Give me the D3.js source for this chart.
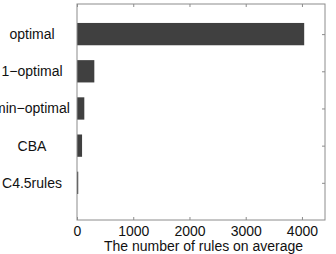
<!DOCTYPE html>
<html>
<head>
<meta charset="utf-8">
<script src="https://cdn.jsdelivr.net/npm/d3@7"></script>
<style>
  body { margin: 0; background: #fff; }
  text { font-family: 'Liberation Sans', Arial, sans-serif; }
</style>
</head>
<body>
<div id="chart"></div>
<script>
const categories = ['optimal', '1\u2212optimal', 'min\u2212optimal', 'CBA', 'C4.5rules'];
const ruleCounts = [4040, 308, 130, 90, 22];
const xTicks = [0, 1000, 2000, 3000, 4000];
const xLabel = 'The number of rules on average';

const width = 336, height = 254;
const margins = { top: 4, right: 11, bottom: 34, left: 77 };
const innerW = width - margins.left - margins.right;
const innerH = height - margins.top - margins.bottom;
const fontSize = '14px';

const svg = d3.select('#chart').append('svg')
    .attr('width', width)
    .attr('height', height);

const canvas = svg.append('g')
    .attr('transform', `translate(${margins.left}, ${margins.top})`);

const xScale = d3.scaleLinear()
    .domain([0, 4410])
    .range([0, innerW]);

// category positions like matlab barh: C4.5rules at 1 ... optimal at 5
const yScale = d3.scaleLinear()
    .domain([0, 5.81])
    .range([innerH, 0]);
const pos = (i) => categories.length - i;
const barH = yScale(0) - yScale(0.6);

const axisColor = '#8c8c8c';
const tickLen = 3;

// bars
canvas.selectAll('rect.bar')
    .data(ruleCounts)
    .enter()
    .append('rect')
    .attr('class', 'bar')
    .attr('x', xScale(0))
    .attr('y', (d, i) => yScale(pos(i)) - barH / 2)
    .attr('width', d => xScale(d) - xScale(0))
    .attr('height', barH)
    .attr('fill', '#404040');

// box
canvas.append('rect')
    .attr('x', 0).attr('y', 0)
    .attr('width', innerW).attr('height', innerH)
    .attr('fill', 'none')
    .attr('stroke', axisColor)
    .attr('stroke-width', 1);

// x ticks (inward, bottom & top)
const xAxisBottom = canvas.append('g')
    .attr('transform', `translate(0, ${innerH})`)
    .call(d3.axisBottom(xScale).tickValues(xTicks).tickSize(-tickLen).tickPadding(6).tickFormat(d3.format('d')));
const xAxisTop = canvas.append('g')
    .call(d3.axisTop(xScale).tickValues(xTicks).tickSize(-tickLen).tickFormat(''));
[xAxisBottom, xAxisTop].forEach(a => {
    a.select('.domain').remove();
    a.selectAll('line').attr('stroke', axisColor);
});
xAxisBottom.selectAll('text')
    .attr('fill', '#111')
    .style('font-size', fontSize);

// y ticks (inward, right side), labels on left
const yAxisRight = canvas.append('g')
    .attr('transform', `translate(${innerW}, 0)`)
    .call(d3.axisRight(yScale).tickValues(categories.map((c, i) => pos(i))).tickSize(-tickLen).tickFormat(''));
yAxisRight.select('.domain').remove();
yAxisRight.selectAll('line').attr('stroke', axisColor);

canvas.selectAll('text.cat')
    .data(categories)
    .enter()
    .append('text')
    .attr('class', 'cat')
    .attr('x', -45)
    .attr('y', (d, i) => yScale(pos(i)))
    .attr('dy', '0.35em')
    .attr('text-anchor', 'middle')
    .attr('fill', '#111')
    .style('font-size', fontSize)
    .text(d => d);

svg.append('text')
    .attr('x', margins.left + xScale(2250))
    .attr('y', 251)
    .attr('text-anchor', 'middle')
    .attr('fill', '#111')
    .style('font-size', fontSize)
    .text(xLabel);
</script>
</body>
</html>
